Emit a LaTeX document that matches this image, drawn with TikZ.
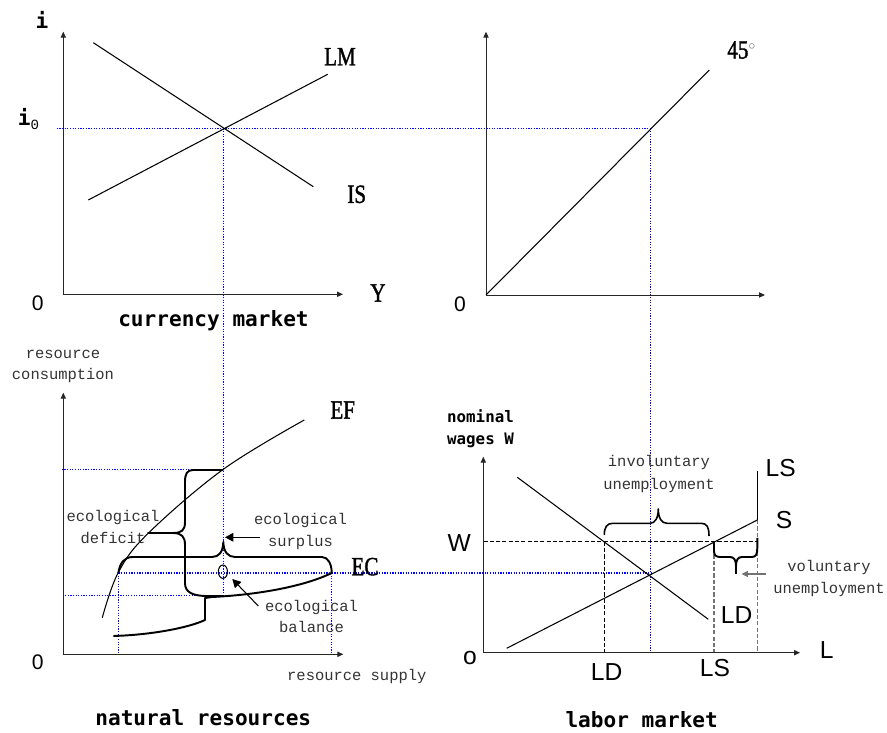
\documentclass[tikz,border=0pt]{standalone}
\usepackage{fontspec}
\usetikzlibrary{arrows.meta,positioning}
\newfontfamily\headfont{DejaVu Sans Mono}
\newfontfamily\notefont{Liberation Mono}
\newfontfamily\curvefont{Liberation Serif}[FakeStretch=0.8,FakeBold=1.3]
\newfontfamily\axisfont{Liberation Sans}
\tikzset{
	axis/.style={draw=black!85, line width=0.55pt, -{Triangle[length=3.4pt,width=3pt]}},
	curve/.style={line width=0.6pt},
	guide/.style={draw=blue, line width=0.7pt, dash pattern=on 0.7pt off 0.8pt},
	helper/.style={line width=0.6pt, dash pattern=on 2.4pt off 1.2pt},
	greyhelper/.style={helper, draw=black!55},
	bracket/.style={line width=1.1pt, line join=round},
	pointer/.style={line width=0.6pt, -{Triangle[length=4.8pt,width=5pt]}},
	headlbl/.style={font=\headfont\bfseries\fontsize{12}{14}\selectfont, inner sep=0pt},
	notelbl/.style={font=\notefont\fontsize{8.8}{12.4}\selectfont, text=black!80, align=center, inner sep=0pt},
	curvelbl/.style={font=\curvefont\fontsize{15}{18}\selectfont, inner sep=0pt},
	axislbl/.style={font=\axisfont\fontsize{14}{16}\selectfont, inner sep=0pt},
	originlbl/.style={font=\axisfont\fontsize{12}{14}\selectfont, inner sep=0pt}
}
\begin{document}
\begin{tikzpicture}[x=0.02cm, y=-0.02cm]
	\useasboundingbox (0,0) rectangle (887,733);
	% blue projection lines
	\draw[guide] (56.7,128.3) -- (650.7,128.3);
	\draw[guide] (223.3,128.3) -- (223.3,595.7);
	\draw[guide] (650.7,128.3) -- (650.7,652.7);
	\draw[guide] (61.7,469.3) -- (223.3,469.3);
	\draw[guide] (65,595.7) -- (223.3,595.7);
	\draw[guide] (118.3,573) -- (650.7,573);
	\draw[guide] (118.3,573) -- (118.3,654.3);
	\draw[guide] (331.7,573) -- (331.7,654.3);

	% currency market
	\coordinate (cmO) at (63.3,294.3);
	\draw[axis] (cmO) -- (63.3,31.7);
	\draw[axis] (cmO) -- (343,294.3);
	\draw[curve] (93.3,42.7) -- (313.3,186.7);
	\draw[curve] (88.3,200) -- (327.7,74.3);
	\node[headlbl] (cmI) at (42,20) {i};
	\node[headlbl] (cmIzero) at (29,119) {i\textsubscript{\fontsize{8}{8}\selectfont\mdseries\notefont 0}};
	\node[originlbl] (cmOlbl) at (37.7,303) {0};
	\node[curvelbl] (cmLM) at (340,56.7) {LM};
	\node[curvelbl] (cmIS) at (356.7,194.3) {IS};
	\node[curvelbl] (cmY) at (378,293) {Y};
	\node[headlbl] (cmTitle) at (213.5,320.5) {currency market};

	% 45 degree panel
	\coordinate (dgO) at (486,295);
	\draw[axis] (dgO) -- (486,31.7);
	\draw[axis] (dgO) -- (765,295);
	\draw[curve] (dgO) -- (709.3,70);
	\node[originlbl] (dgOlbl) at (460,304) {0};
	\node[curvelbl, anchor=west] (dgLbl) at (727,50) {45\raisebox{5pt}{\textcolor{black!55}{$\scriptscriptstyle\circ$}}};

	% natural resources
	\coordinate (nrO) at (63.3,654.3);
	\draw[axis] (nrO) -- (63.3,392.7);
	\draw[axis] (nrO) -- (343.3,654.3);
	\draw[curve] plot[smooth, tension=0.6] coordinates {(102.3,617.7) (118.3,572.5) (148,533.5) (223.3,469.3) (304.3,420)};
	\draw[curve] (222.9,571.7) ellipse [x radius=2.6pt, y radius=3.8pt];
	\draw[bracket] (223.3,470) -- (193,470) .. controls (187,470) and (185,474) .. (185,482)
		-- (185,522) .. controls (185,530) and (182,533) .. (173,533) -- (148,533)
		-- (173,533) .. controls (182,533) and (185,537) .. (185,545)
		-- (185,583) .. controls (185,592) and (192,595.5) .. (205,596) -- (223.3,596);
	\draw[bracket] (118.3,573) .. controls (120,563) and (124,557) .. (133,557) -- (212,557)
		.. controls (219,557) and (223,552) .. (223.3,542)
		.. controls (223.6,552) and (228,557) .. (235,557) -- (322,557)
		.. controls (328,557) and (331.7,564) .. (331.7,573);
	\draw[bracket] (113.3,636) .. controls (150,635) and (188,628) .. (205,620) -- (205,598)
		-- (212,597) .. controls (255,595) and (303,587) .. (331.7,573);
	\node[notelbl] (nrCons) at (63,366.5) {resource\\consumption};
	\node[originlbl] (nrOlbl) at (37.7,662.7) {0};
	\node[notelbl] (nrSupply) at (356.8,676.7) {resource supply};
	\node[headlbl] (nrTitle) at (203.3,717.7) {natural resources};
	\node[curvelbl] (nrEF) at (342.7,410) {EF};
	\node[curvelbl] (nrEC) at (365,566.7) {EC};
	\node[notelbl] (nrDeficit) at (113,527) {ecological\\deficit};
	\node[notelbl] (nrSurplus) at (300.5,531.5) {ecological\\surplus};
	\node[notelbl] (nrBalance) at (311.5,616.5) {ecological\\balance};
	\coordinate (spFrom) at (260,537.3);
	\coordinate (spTo) at (225,537.3);
	\draw[pointer] (spFrom) -- (spTo);
	\coordinate (blFrom) at (258.3,606);
	\coordinate (blTo) at (232.3,579);
	\draw[pointer] (blFrom) -- (blTo);

	% labor market
	\coordinate (lmO) at (483.3,652.7);
	\draw[greyhelper] (757.3,520) -- (757.3,652.7);
	\draw[greyhelper] (714,541.7) -- (714,652.7);
	\draw[helper] (604.3,541.7) -- (604.3,652.7);
	\draw[helper] (483.3,541.7) -- (757.3,541.7);
	\draw[axis] (lmO) -- (483.3,456.7);
	\draw[axis] (lmO) -- (800,652.7);
	\draw[curve] (517.3,477.3) -- (708.3,619.3);
	\draw[curve] (506.7,648.3) -- (757.3,520);
	\draw[curve] (757.3,470.7) -- (757.3,520);
	\draw[bracket, line width=0.9pt] (604.3,535) .. controls (604.3,527) and (607,523.3) .. (613,523.3) -- (650,523.3)
		.. controls (655,523.3) and (658.3,518) .. (658.3,509)
		.. controls (658.3,518) and (661.6,523.3) .. (667,523.3) -- (701,523.3)
		.. controls (707,523.3) and (709,527) .. (709,536);
	\draw[bracket] (714,541.7) -- (714,551) .. controls (714,555) and (716,557) .. (720,557) -- (730,557)
		.. controls (734,557) and (736,560) .. (736,566)
		.. controls (736,560) and (738,557) .. (742,557) -- (752,557)
		.. controls (756,557) and (757.3,554) .. (757.3,548) -- (757.3,538);
	\draw[line width=1.6pt] (736,564) -- (736,574.3);
	\coordinate (vuFrom) at (766,574);
	\coordinate (vuTo) at (741.5,574);
	\draw[pointer, draw=black!55, fill=black!55, -{Triangle[length=3.6pt,width=3.4pt]}] (vuFrom) -- (vuTo);
	\node[headlbl, font=\headfont\bfseries\fontsize{9}{12.3}\selectfont, align=center] (lmWage) at (480.5,429) {nominal\\wages W};
	\node[axislbl] (lmOlbl) at (470,658.3) {o};
	\node[axislbl] (lmL) at (826.7,650) {L};
	\node[axislbl] (lmW) at (459.3,543.3) {W};
	\node[axislbl] (lmLStop) at (780.7,468.3) {LS};
	\node[axislbl] (lmS) at (784,520) {S};
	\node[axislbl] (lmLDcurve) at (736.7,615) {LD};
	\node[axislbl] (lmLDaxis) at (606.7,671.7) {LD};
	\node[axislbl] (lmLSaxis) at (715,668.3) {LS};
	\node[notelbl, font=\notefont\fontsize{8.8}{13.2}\selectfont] (lmInvol) at (659,474) {involuntary\\unemployment};
	\node[notelbl] (lmVol) at (829,578.5) {voluntary\\unemployment};
	\node[headlbl] (lmTitle) at (641.7,720) {labor market};
\end{tikzpicture}
\end{document}
